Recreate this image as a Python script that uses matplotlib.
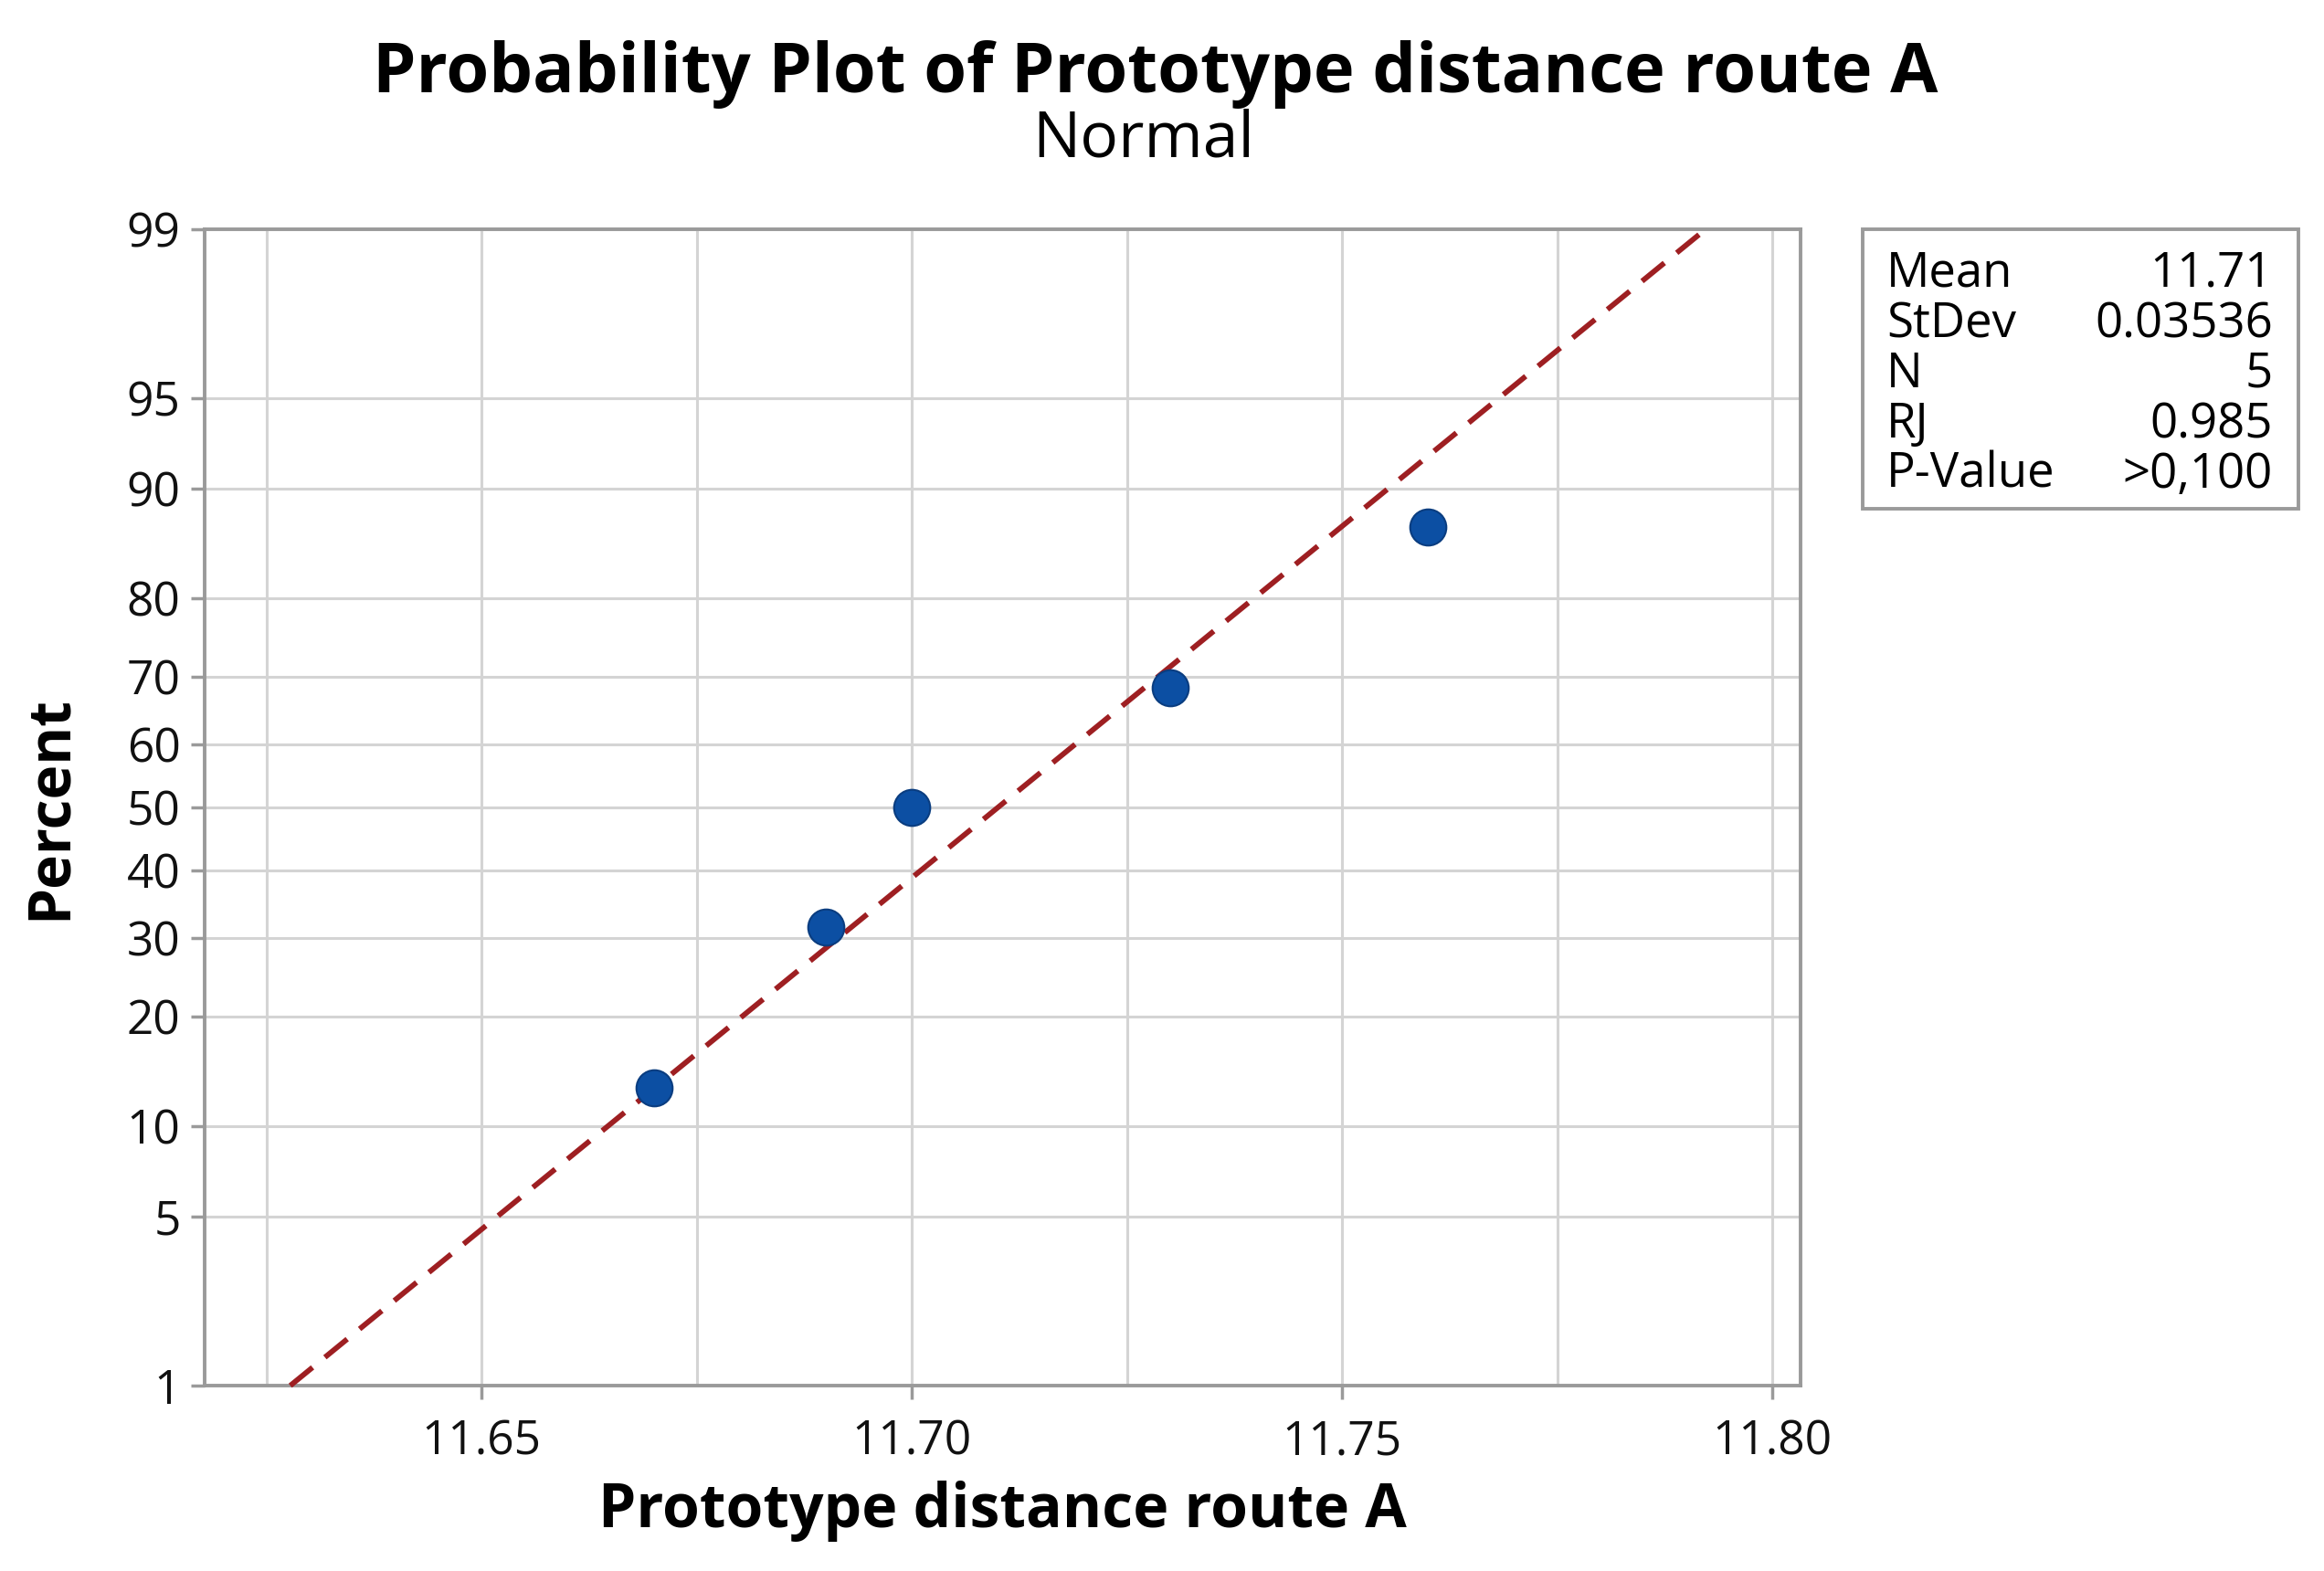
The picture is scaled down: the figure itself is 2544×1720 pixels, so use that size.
import math
import numpy as np
import matplotlib
matplotlib.use("Agg")
import matplotlib.pyplot as plt
from matplotlib.ticker import FixedLocator, NullFormatter

# ---- data ----
distance = [11.67, 11.69, 11.70, 11.73, 11.76]
percent = [12.96, 31.48, 50.00, 68.52, 87.04]
stat_names = ["Mean", "StDev", "N", "RJ", "P-Value"]
stat_values = ["11.71", "0.03536", "5", "0.985", ">0,100"]
fit_mean = 11.71
fit_sd = 0.03536
y_ticks = [1, 5, 10, 20, 30, 40, 50, 60, 70, 80, 90, 95, 99]
x_major = [11.65, 11.70, 11.75, 11.80]
x_minor = [11.625, 11.675, 11.725, 11.775]

plt.rcParams['font.family'] = ['Open Sans', 'DejaVu Sans']


def _ppf_scalar(p):
    # Acklam's rational approximation of the inverse normal CDF
    a = [-3.969683028665376e+01, 2.209460984245205e+02, -2.759285104469687e+02,
         1.383577518672690e+02, -3.066479806614716e+01, 2.506628277459239e+00]
    b = [-5.447609879822406e+01, 1.615858368580409e+02, -1.556989798598866e+02,
         6.680131188771972e+01, -1.328068155288572e+01]
    c = [-7.784894002430293e-03, -3.223964580411365e-01, -2.400758277161838e+00,
         -2.549671010173825e+00, 4.374664141464968e+00, 2.938163982698783e+00]
    d = [7.784695709041462e-03, 3.224671290700398e-01, 2.445134137142996e+00,
         3.754408661907416e+00]
    p = min(max(p, 1e-12), 1 - 1e-12)
    plow = 0.02425
    if p < plow:
        q = math.sqrt(-2 * math.log(p))
        return (((((c[0]*q+c[1])*q+c[2])*q+c[3])*q+c[4])*q+c[5]) / \
               ((((d[0]*q+d[1])*q+d[2])*q+d[3])*q+1)
    if p > 1 - plow:
        q = math.sqrt(-2 * math.log(1 - p))
        return -(((((c[0]*q+c[1])*q+c[2])*q+c[3])*q+c[4])*q+c[5]) / \
                ((((d[0]*q+d[1])*q+d[2])*q+d[3])*q+1)
    q = p - 0.5
    r = q * q
    return (((((a[0]*r+a[1])*r+a[2])*r+a[3])*r+a[4])*r+a[5])*q / \
           (((((b[0]*r+b[1])*r+b[2])*r+b[3])*r+b[4])*r+1)


def pct_to_z(v):
    arr = np.asarray(v, dtype=float)
    out = np.array([_ppf_scalar(x / 100.0) for x in arr.ravel()])
    return out.reshape(arr.shape)


def z_to_pct(v):
    arr = np.asarray(v, dtype=float)
    out = np.array([50.0 * (1 + math.erf(x / math.sqrt(2))) for x in arr.ravel()])
    return out.reshape(arr.shape)


fig = plt.figure(figsize=(25.44, 17.2), dpi=100)
ax = fig.add_axes([0.0881, 0.1180, 0.7748 - 0.0881, 0.8541 - 0.1180])
ax.set_yscale('function', functions=(pct_to_z, z_to_pct))
ax.set_ylim(1, 99)
ax.set_xlim(11.6178, 11.8033)

grid_c = '#d4d4d4'
ax.yaxis.set_major_locator(FixedLocator(y_ticks))
ax.yaxis.set_minor_locator(FixedLocator([]))
ax.set_yticklabels([str(t) for t in y_ticks])
ax.xaxis.set_major_locator(FixedLocator(x_major))
ax.xaxis.set_minor_locator(FixedLocator(x_minor))
ax.xaxis.set_minor_formatter(NullFormatter())
ax.set_xticklabels([f"{t:.2f}" for t in x_major])

ax.grid(True, which='both', axis='x', color=grid_c, lw=2.2, zorder=0)
ax.grid(True, which='major', axis='y', color=grid_c, lw=2.2, zorder=0)
ax.set_axisbelow(True)

for s in ax.spines.values():
    s.set_color('#9a9a9a')
    s.set_linewidth(2.8)

ax.tick_params(axis='both', which='major', direction='out', length=11, width=2.5,
               color='#9a9a9a', labelsize=37, labelcolor='#111111', pad=8)
ax.tick_params(axis='x', which='minor', length=0)
ax.tick_params(axis='x', which='major', pad=15)

# fitted line (from 1% to 99%)
fit_p = [1, 99]
fit_x = [fit_mean + fit_sd * float(z) for z in pct_to_z(fit_p)]
ax.plot(fit_x, fit_p, color='#9e1f22', lw=4.2, dashes=(5.4, 3.0), zorder=3,
        clip_on=False)

ax.plot(distance, percent, 'o', ms=28.5, color='#0c4fa3', mec='#0a3d80', mew=1.5,
        zorder=4, clip_on=False)

ax.set_xlabel('Prototype distance route A', fontsize=47.5, fontweight='bold',
              labelpad=12)
ax.set_ylabel('Percent', fontsize=46, fontweight='bold', labelpad=37)

fig.text(0.497, 0.941, 'Probability Plot of Prototype distance route A',
         ha='center', va='baseline', fontsize=54.5, fontweight='bold')
fig.text(0.492, 0.900, 'Normal', ha='center', va='baseline', fontsize=50)

# stats box
box = plt.Rectangle((0.8015, 0.676), 0.989 - 0.8015, 0.854 - 0.676,
                    transform=fig.transFigure, fill=False, ec='#9a9a9a', lw=2.8)
fig.add_artist(box)
y0 = 1 - 314 / 1720
dy = 55 / 1720
for i, (n, v) in enumerate(zip(stat_names, stat_values)):
    yy = y0 - i * dy
    fig.text(2065 / 2544, yy, n, ha='left', va='baseline', fontsize=38)
    fig.text(2488 / 2544, yy, v, ha='right', va='baseline', fontsize=38)

fig.savefig('out.png', dpi=100)
